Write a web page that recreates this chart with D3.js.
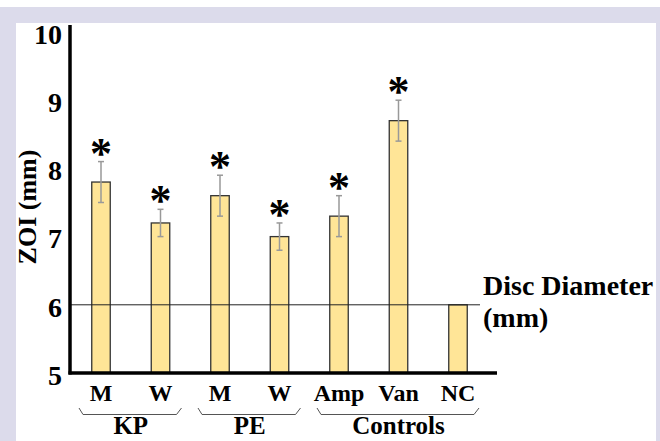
<!DOCTYPE html>
<html>
<head>
<meta charset="utf-8">
<script src="https://cdn.jsdelivr.net/npm/d3@7"></script>
<style>
  body { margin: 0; background: #fff; }
  svg text { font-family: "Liberation Serif", "Times New Roman", serif; font-weight: bold; fill: #000; }
</style>
</head>
<body>
<script>
// chart data
var categories = ["KP-M", "KP-W", "PE-M", "PE-W", "Amp", "Van", "NC"];
var tickLabels = ["M", "W", "M", "W", "Amp", "Van", "NC"];
var zoi = [7.8, 7.2, 7.6, 7.0, 7.3, 8.7, 6.0];
var errors = [0.3, 0.2, 0.3, 0.2, 0.3, 0.3, 0];
var significant = [true, true, true, true, true, true, false];
var groupNames = ["KP", "PE", "Controls"];
var groupMembers = [["KP-M", "KP-W"], ["PE-M", "PE-W"], ["Amp", "Van", "NC"]];
var yTicks = [5, 6, 7, 8, 9, 10];
var discDiameter = 6;

var width = 660, height = 441;

var svg = d3.select("body").append("svg")
	.attr("width", width)
	.attr("height", height);

// lavender frame
svg.append("rect")
	.attr("x", 0).attr("y", 7)
	.attr("width", width).attr("height", height - 7)
	.attr("fill", "#dcdbeb");
svg.append("rect")
	.attr("x", 16).attr("y", 23)
	.attr("width", 640).attr("height", height)
	.attr("fill", "#fff");

var x = d3.scalePoint().domain(categories).range([101, 458]);
var y = d3.scaleLinear().domain([5, 10]).range([373, 32]);
var barW = 18.5;

var data = categories.map(function (c, i) {
	return { id: c, label: tickLabels[i], value: zoi[i], err: errors[i], sig: significant[i] };
});

// bars
svg.selectAll("rect.bar")
	.data(data)
	.enter().append("rect")
	.attr("class", "bar")
	.attr("x", function (d) { return x(d.id) - barW / 2; })
	.attr("y", function (d) { return y(d.value); })
	.attr("width", barW)
	.attr("height", function (d) { return y(5) - y(d.value); })
	.attr("fill", "#ffe597")
	.attr("stroke", "#333")
	.attr("stroke-width", 1.3);

// disc diameter reference line, over the bars
svg.append("line")
	.attr("x1", 70).attr("x2", 480)
	.attr("y1", y(discDiameter)).attr("y2", y(discDiameter))
	.attr("stroke", "#222")
	.attr("stroke-width", 1);

// error bars
var errG = svg.selectAll("g.err")
	.data(data.filter(function (d) { return d.err > 0; }))
	.enter().append("g")
	.attr("class", "err")
	.attr("stroke", "#999")
	.attr("stroke-width", 1.5);

errG.append("line")
	.attr("x1", function (d) { return x(d.id); })
	.attr("x2", function (d) { return x(d.id); })
	.attr("y1", function (d) { return y(d.value + d.err); })
	.attr("y2", function (d) { return y(d.value - d.err); });
errG.append("line")
	.attr("x1", function (d) { return x(d.id) - 3; })
	.attr("x2", function (d) { return x(d.id) + 3; })
	.attr("y1", function (d) { return y(d.value + d.err); })
	.attr("y2", function (d) { return y(d.value + d.err); });
errG.append("line")
	.attr("x1", function (d) { return x(d.id) - 3; })
	.attr("x2", function (d) { return x(d.id) + 3; })
	.attr("y1", function (d) { return y(d.value - d.err); })
	.attr("y2", function (d) { return y(d.value - d.err); });

// significance stars
svg.selectAll("text.star")
	.data(data.filter(function (d) { return d.sig; }))
	.enter().append("text")
	.attr("class", "star")
	.attr("x", function (d) { return x(d.id); })
	.attr("y", function (d) { return y(d.value + d.err) + 6; })
	.attr("text-anchor", "middle")
	.style("font-size", "44px")
	.text("*");

// axes
svg.append("line")
	.attr("x1", 70).attr("x2", 70)
	.attr("y1", 25).attr("y2", y(5) + 1.5)
	.attr("stroke", "#000").attr("stroke-width", 3.5);
svg.append("line")
	.attr("x1", 68.5).attr("x2", 497)
	.attr("y1", y(5)).attr("y2", y(5))
	.attr("stroke", "#000").attr("stroke-width", 3.5);

svg.selectAll("text.ytick")
	.data(yTicks)
	.enter().append("text")
	.attr("class", "ytick")
	.attr("x", 62)
	.attr("y", function (d) { return y(d) + 2; })
	.attr("dy", "0.35em")
	.attr("text-anchor", "end")
	.style("font-size", "28px")
	.text(function (d) { return d; });

svg.append("text")
	.attr("transform", "translate(36,207) rotate(-90)")
	.attr("text-anchor", "middle")
	.style("font-size", "26px")
	.text("ZOI (mm)");

// category labels
svg.selectAll("text.xtick")
	.data(data)
	.enter().append("text")
	.attr("class", "xtick")
	.attr("x", function (d) { return x(d.id); })
	.attr("y", 401)
	.attr("text-anchor", "middle")
	.style("font-size", "24px")
	.text(function (d) { return d.label; });

// group braces and labels
groupNames.forEach(function (g, i) {
	var m = groupMembers[i];
	var x0 = x(m[0]) - 22, x1 = x(m[m.length - 1]) + 21;
	svg.append("path")
		.attr("d", "M" + x0 + ",408 L" + (x0 + 4) + ",414.5 L" + (x1 - 5) + ",414.5 L" + x1 + ",408")
		.attr("fill", "none")
		.attr("stroke", "#555")
		.attr("stroke-width", 1);
	svg.append("text")
		.attr("x", (x(m[0]) + x(m[m.length - 1])) / 2)
		.attr("y", 434)
		.attr("text-anchor", "middle")
		.style("font-size", "25px")
		.text(g);
});

// reference line label
var lab = svg.append("text")
	.attr("x", 483)
	.attr("y", 295)
	.style("font-size", "28px");
lab.append("tspan").attr("x", 483).text("Disc Diameter");
lab.append("tspan").attr("x", 483).attr("dy", 32).text("(mm)");
</script>
</body>
</html>
